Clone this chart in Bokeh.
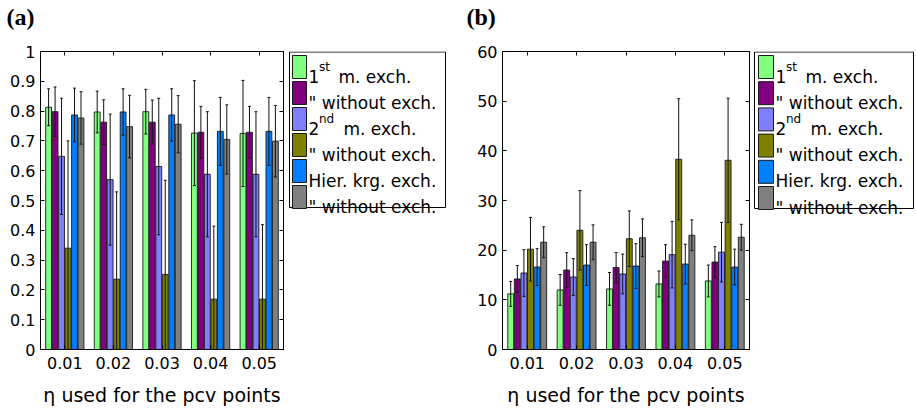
import numpy as np
from bokeh.plotting import figure
from bokeh.layouts import row
from bokeh.models import FixedTicker, LinearAxis, Range1d, Label
from bokeh.core.properties import value
from bokeh.embed import file_html
from bokeh.resources import INLINE

# ---------------- data ----------------
categories = ["0.01", "0.02", "0.03", "0.04", "0.05"]
x_title = "\u03b7 used for the pcv points"

colors = ["#80FF80", "#800080", "#8080FF", "#808000", "#0080FF", "#808080"]

legend_main = ["1", "\" without exch.", "2", "\" without exch.", "Hier. krg. exch.", "\" without exch."]
legend_sup = ["st", "", "nd", "", "", ""]
legend_rest = ["m. exch.", "", "m. exch.", "", "", ""]

# panel (a)
a_first = [0.813, 0.797, 0.798, 0.726, 0.725]
a_first_wo = [0.798, 0.763, 0.763, 0.729, 0.729]
a_second = [0.648, 0.570, 0.614, 0.588, 0.588]
a_second_wo = [0.340, 0.236, 0.252, 0.169, 0.169]
a_hier = [0.787, 0.797, 0.787, 0.732, 0.732]
a_hier_wo = [0.777, 0.748, 0.756, 0.705, 0.699]

a_first_err = [0.062, 0.070, 0.075, 0.176, 0.178]
a_first_wo_err = [0.083, 0.075, 0.074, 0.087, 0.087]
a_second_err = [0.195, 0.220, 0.229, 0.210, 0.210]
a_second_wo_err = [0.360, 0.293, 0.316, 0.245, 0.250]
a_hier_err = [0.090, 0.078, 0.088, 0.114, 0.114]
a_hier_wo_err = [0.088, 0.105, 0.096, 0.116, 0.120]

a_yticks = [0, 0.1, 0.2, 0.3, 0.4, 0.5, 0.6, 0.7, 0.8, 0.9, 1.0]
a_ytick_labels = ["0", "0.1", "0.2", "0.3", "0.4", "0.5", "0.6", "0.7", "0.8", "0.9", "1"]

# panel (b)
b_first = [11.2, 12.0, 12.2, 13.2, 13.8]
b_first_wo = [14.2, 16.0, 16.5, 17.8, 17.6]
b_second = [15.4, 14.6, 15.2, 19.1, 19.6]
b_second_wo = [20.2, 24.0, 22.3, 38.3, 38.1]
b_hier = [16.6, 17.0, 16.8, 17.2, 16.6]
b_hier_wo = [21.6, 21.6, 22.5, 23.0, 22.6]

b_first_err = [2.5, 3.1, 3.3, 2.6, 3.2]
b_first_wo_err = [2.7, 3.5, 3.0, 3.3, 3.1]
b_second_err = [4.7, 3.7, 4.0, 6.7, 6.0]
b_second_wo_err = [6.4, 8.0, 5.6, 12.2, 12.5]
b_hier_err = [3.7, 4.1, 4.5, 4.0, 3.6]
b_hier_wo_err = [3.1, 3.5, 3.8, 3.1, 2.6]

b_yticks = [0, 10, 20, 30, 40, 50, 60]
b_ytick_labels = ["0", "10", "20", "30", "40", "50", "60"]

FONT = "DejaVu Sans"
H = 410
FT = 51      # frame top (shared: row aligns frames)
FB = 349     # frame bottom


def make_panel(letter, series, errors, ymax, yticks, ytick_labels, geom, title_off):
    fl, fw, rb = geom  # frame left, width, right border
    W = fl + fw + rb
    p = figure(width=W, height=H, output_backend="svg", toolbar_location=None,
               x_range=Range1d(0.5, len(categories) + 0.5), y_range=Range1d(0, ymax),
               min_border_left=fl, min_border_right=rb,
               min_border_top=FT, min_border_bottom=H - FB)
    p.xgrid.visible = False
    p.ygrid.visible = False
    p.outline_line_color = "black"
    p.outline_line_width = 1
    p.background_fill_color = "white"
    p.border_fill_color = "white"

    xs = np.arange(1, len(categories) + 1)
    n = len(series)
    slot = 0.8 / n
    for i, (vals, errs) in enumerate(zip(series, errors)):
        off = (i - (n - 1) / 2) * slot
        x = xs + off
        vals = np.array(vals)
        errs = np.array(errs)
        p.vbar(x=x, top=vals, bottom=0, width=slot * 0.9, fill_color=colors[i],
               line_color="#1a1a1a", line_width=0.9)
        lo = vals - errs
        hi = vals + errs
        p.segment(x0=x, y0=lo, x1=x, y1=hi, line_color="#111111", line_width=1)
        p.segment(x0=x - 0.03, y0=hi, x1=x + 0.03, y1=hi, line_color="#111111", line_width=1)
        p.segment(x0=x - 0.03, y0=lo, x1=x + 0.03, y1=lo, line_color="#111111", line_width=1)

    xt = FixedTicker(ticks=list(xs))
    yt = FixedTicker(ticks=yticks)
    xlab = {int(k): v for k, v in zip(xs, categories)}
    ylab = {float(k): v for k, v in zip(yticks, ytick_labels)}
    ylab.update({int(k): v for k, v in zip(yticks, ytick_labels) if float(k).is_integer()})

    xa = p.xaxis[0]
    xa.ticker = xt
    xa.major_label_overrides = xlab
    xa.axis_label = x_title
    ya = p.yaxis[0]
    ya.ticker = yt
    ya.major_label_overrides = ylab

    ra = LinearAxis(ticker=yt, major_label_overrides={k: "" for k in ylab})
    ta = LinearAxis(ticker=xt, major_label_overrides={k: "" for k in xlab})
    p.add_layout(ra, "right")
    p.add_layout(ta, "above")

    for ax in [xa, ya, ra, ta]:
        ax.major_tick_in = 4
        ax.major_tick_out = 0
        ax.minor_tick_line_color = None
        ax.axis_line_color = "black"
        ax.major_tick_line_color = "black"
        ax.major_label_text_font = FONT
        ax.major_label_text_font_size = "16px"
        ax.major_label_text_color = "black"
    ra.major_label_standoff = 0
    ta.major_label_standoff = 0
    ya.major_label_standoff = 5
    xa.major_label_standoff = 7
    xa.axis_label_text_font = FONT
    xa.axis_label_text_font_size = "19px"
    xa.axis_label_text_font_style = "normal"
    xa.axis_label_text_color = "black"
    xa.axis_label_standoff = 12

    # panel letter, placed in the top side panel (outside the top axis)
    p.add_layout(Label(x=title_off, y=22, x_units="screen", y_units="screen",
                       text="(" + letter + ")", text_font="Liberation Serif",
                       text_font_style="bold", text_font_size="24px", text_color="black"),
                 "above")
    return p


def make_legend(width, leg):
    bl, br, bt, bbm, swl, sww, row0, pitch, swh, txl, rest_off = leg
    q = figure(width=width, height=H, output_backend="svg", toolbar_location=None,
               x_range=Range1d(0, width), y_range=Range1d(FB, FT),
               x_axis_location=None, y_axis_location=None,
               min_border_left=0, min_border_right=0,
               min_border_top=FT, min_border_bottom=H - FB)
    q.xgrid.visible = False
    q.ygrid.visible = False
    q.outline_line_color = None
    q.background_fill_color = "white"
    q.border_fill_color = "white"
    q.quad(left=[bl], right=[br], top=[bt], bottom=[bbm], fill_color="white",
           line_color="black", line_width=1)
    n = len(legend_main)
    tops = [row0 + i * pitch for i in range(n)]
    q.quad(left=[swl] * n, right=[swl + sww] * n, top=tops, bottom=[t + swh for t in tops],
           fill_color=colors, line_color="#1a1a1a", line_width=1)
    bases = [t + swh - 2 for t in tops]
    q.text(x=[txl] * n, y=bases, text=legend_main, text_font=value(FONT), text_font_size="17px",
           text_baseline="alphabetic", text_align="left", text_color="black")
    sup_idx = [i for i in range(n) if legend_sup[i]]
    q.text(x=[txl + 10.5] * len(sup_idx), y=[bases[i] - 10 for i in sup_idx],
           text=[legend_sup[i] for i in sup_idx], text_font=value(FONT), text_font_size="12px",
           text_baseline="alphabetic", text_align="left", text_color="black")
    rest_idx = [i for i in range(n) if legend_rest[i]]
    q.text(x=[txl + rest_off[i] for i in rest_idx], y=[bases[i] for i in rest_idx],
           text=[legend_rest[i] for i in rest_idx], text_font=value(FONT), text_font_size="17px",
           text_baseline="alphabetic", text_align="left", text_color="black")
    return q


pa = make_panel("a",
                [a_first, a_first_wo, a_second, a_second_wo, a_hier, a_hier_wo],
                [a_first_err, a_first_wo_err, a_second_err, a_second_wo_err, a_hier_err, a_hier_wo_err],
                1.0, a_yticks, a_ytick_labels,
                (40, 243, 3), -34)
la = make_legend(172, (3, 159, 51.5, 207, 6, 14, 55, 26, 23, 22, [30, 0, 35, 0, 0, 0]))
pb = make_panel("b",
                [b_first, b_first_wo, b_second, b_second_wo, b_hier, b_hier_wo],
                [b_first_err, b_first_wo_err, b_second_err, b_second_wo_err, b_hier_err, b_hier_wo_err],
                60, b_yticks, b_ytick_labels,
                (44, 247, 3), -36)
lb = make_legend(164, (2, 161, 51.5, 208, 6, 15, 55, 26.2, 23, 23, [30, 0, 35, 0, 0, 0]))

layout = row(pa, la, pb, lb)
open("out.html", "w").write(file_html(layout, INLINE))
